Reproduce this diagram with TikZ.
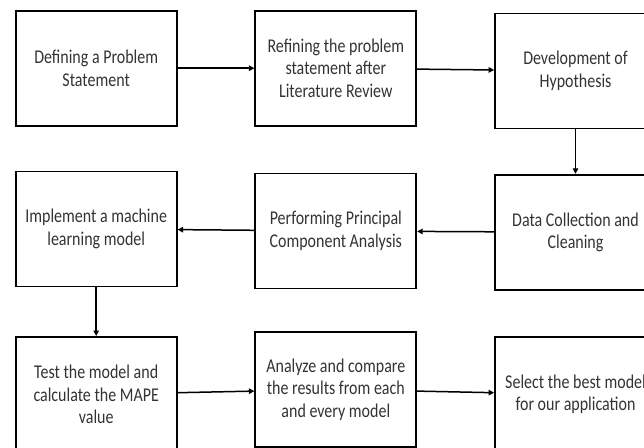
\documentclass[tikz,border=0pt]{standalone}
\usepackage{fontspec}
\setmainfont{Carlito}[FakeStretch=0.82]
\usetikzlibrary{arrows.meta}
\definecolor{txtgray}{HTML}{333333}

\begin{document}
\begin{tikzpicture}[x = 1pt, y = -1pt,
    stepbox/.style = {draw, line width = 1.8pt, minimum width = 161pt, minimum height = 115pt,
        align = center, text = txtgray, font = \fontsize{19.5}{22.5}\selectfont},
    flow/.style = {line width = 1.5pt, -{Triangle[length = 5.5pt, width = 5.5pt]}}]
    \useasboundingbox (0,0) rectangle (644,447);
    \clip (0,0) rectangle (644,447);
    \node[stepbox] (problem)  at (96.2,68.2)  {Defining a Problem\\Statement};
    \node[stepbox] (refine)   at (335.8,68.2) {Refining the problem\\statement after\\Literature Review};
    \node[stepbox] (hypo)     at (575.5,70.9) {Development of\\Hypothesis};
    \node[stepbox] (data)     at (575.5,232.2) {Data Collection and\\Cleaning};
    \node[stepbox] (pca)      at (335.8,231)  {Performing Principal\\Component Analysis};
    \node[stepbox] (ml)       at (96.2,228.9) {Implement a machine\\learning model};
    \node[stepbox] (test)     at (96.2,394.4) {Test the model and\\calculate the MAPE\\value};
    \node[stepbox] (compare)  at (335.8,389.4) {Analyze and compare\\the results from each\\and every model};
    \node[stepbox] (select)   at (575.5,394.4) {Select the best model\\for our application};
    \draw[flow]
    (problem) -- (refine);
    \draw[flow]
    (refine) -- (hypo);
    \draw[flow]
    (hypo) -- (data);
    \draw[flow]
    (data) -- (pca);
    \draw[flow]
    (pca) -- (ml);
    \draw[flow]
    (ml) -- (test);
    \draw[flow]
    (test) -- (compare);
    \draw[flow]
    (compare) -- (select);
\end{tikzpicture}
\end{document}
